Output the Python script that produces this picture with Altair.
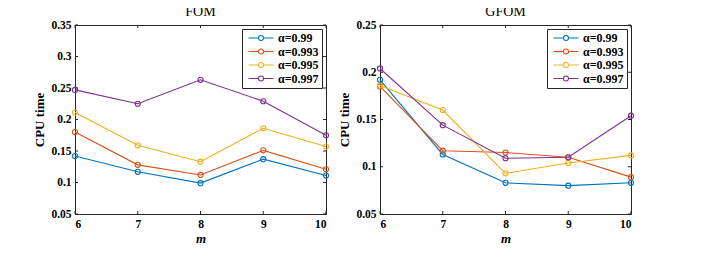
import altair as alt
import pandas as pd

m_vals = [6, 7, 8, 9, 10]
series_names = ["α=0.99", "α=0.993", "α=0.995", "α=0.997"]
colors = ["#0072BD", "#D95319", "#EDB120", "#7E2F8E"]

fom_099 = [0.142, 0.117, 0.099, 0.137, 0.111]
fom_0993 = [0.180, 0.128, 0.112, 0.151, 0.121]
fom_0995 = [0.211, 0.159, 0.133, 0.186, 0.157]
fom_0997 = [0.247, 0.225, 0.263, 0.229, 0.175]

gfom_099 = [0.192, 0.113, 0.083, 0.080, 0.083]
gfom_0993 = [0.185, 0.117, 0.115, 0.110, 0.089]
gfom_0995 = [0.186, 0.160, 0.093, 0.104, 0.112]
gfom_0997 = [0.204, 0.144, 0.109, 0.110, 0.154]

fom_yticks = [0.05, 0.1, 0.15, 0.2, 0.25, 0.3, 0.35]
gfom_yticks = [0.05, 0.1, 0.15, 0.2, 0.25]

FONT = "Liberation Serif"
AX = "#262626"
W, H = 251, 189
LEG_PATH = "M-5,0H-1M1,0H5M1,0A1,1,0,1,1,-1,0A1,1,0,1,1,1,0"


def make_df(vals):
    rows = []
    for name, ys in zip(series_names, vals):
        for mm, v in zip(m_vals, ys):
            rows.append({"m": mm, "cpu": v, "series": name})
    return pd.DataFrame(rows)


def panel(title, vals, yticks):
    df = make_df(vals)
    ydom = [yticks[0], yticks[-1]]
    xs = alt.Scale(domain=[6, 10], nice=False)
    ys = alt.Scale(domain=ydom, nice=False)
    xax = alt.Axis(values=m_vals, format="d", title="m", tickSize=0, labelPadding=4,
                   titleFontStyle="italic", titlePadding=3, labelOverlap=False)
    yax = alt.Axis(values=yticks, format=".2~f", title="CPU time", tickSize=0,
                   labelPadding=4, titlePadding=4, labelOverlap=False)
    line = alt.Chart(df).mark_line(
        strokeWidth=1.1,
        point=alt.OverlayMarkDef(filled=False, size=26, strokeWidth=1.1),
    ).encode(
        x=alt.X("m:Q", scale=xs, axis=xax),
        y=alt.Y("cpu:Q", scale=ys, axis=yax),
        color=alt.Color("series:N", sort=series_names,
                        scale=alt.Scale(domain=series_names, range=colors),
                        legend=alt.Legend(
                            title=None, orient="top-right", offset=4,
                            symbolType=LEG_PATH, symbolSize=25,
                            symbolStrokeWidth=1.1, symbolFillColor="transparent",
                            symbolOffset=10, labelOffset=11,
                            labelFont=FONT, labelFontSize=12, labelFontWeight="bold",
                            labelColor="black",
                            fillColor="white", strokeColor=AX, padding=3,
                            rowPadding=1.5, cornerRadius=0)),
    )
    ytk = pd.DataFrame({"v": yticks})
    xtk = pd.DataFrame({"v": m_vals})
    yl = alt.Chart(ytk).mark_rule(color=AX, strokeWidth=1).encode(
        y=alt.Y("v:Q", scale=ys, axis=yax), x=alt.value(0), x2=alt.value(3))
    yr = alt.Chart(ytk).mark_rule(color=AX, strokeWidth=1).encode(
        y=alt.Y("v:Q", scale=ys, axis=yax), x=alt.value(W - 3), x2=alt.value(W))
    xb = alt.Chart(xtk).mark_rule(color=AX, strokeWidth=1).encode(
        x=alt.X("v:Q", scale=xs, axis=xax), y=alt.value(H - 3), y2=alt.value(H))
    xt = alt.Chart(xtk).mark_rule(color=AX, strokeWidth=1).encode(
        x=alt.X("v:Q", scale=xs, axis=xax), y=alt.value(0), y2=alt.value(3))
    return alt.layer(yl, yr, xb, xt, line).properties(
        width=W, height=H,
        title=alt.TitleParams(title, font=FONT, fontSize=14, fontWeight="normal",
                              color="black", offset=0, frame="group"),
    )


left = panel("FOM", [fom_099, fom_0993, fom_0995, fom_0997], fom_yticks)
right = panel("GFOM", [gfom_099, gfom_0993, gfom_0995, gfom_0997], gfom_yticks)

chart = alt.hconcat(left, right, spacing=6).resolve_scale(
    color="independent"
).resolve_legend(color="independent").properties(
    padding={"left": 25, "top": -4, "right": 5, "bottom": 0},
    background="white",
).configure_view(stroke=AX, strokeWidth=1).configure_axis(
    grid=False, domainColor=AX, domainWidth=1,
    labelFont=FONT, labelFontSize=11.5, labelFontWeight="bold", labelColor="black",
    titleFont=FONT, titleFontSize=13, titleFontWeight="bold", titleColor="black",
)

chart.save("out.html", embed_options={"renderer": "svg", "actions": False})
